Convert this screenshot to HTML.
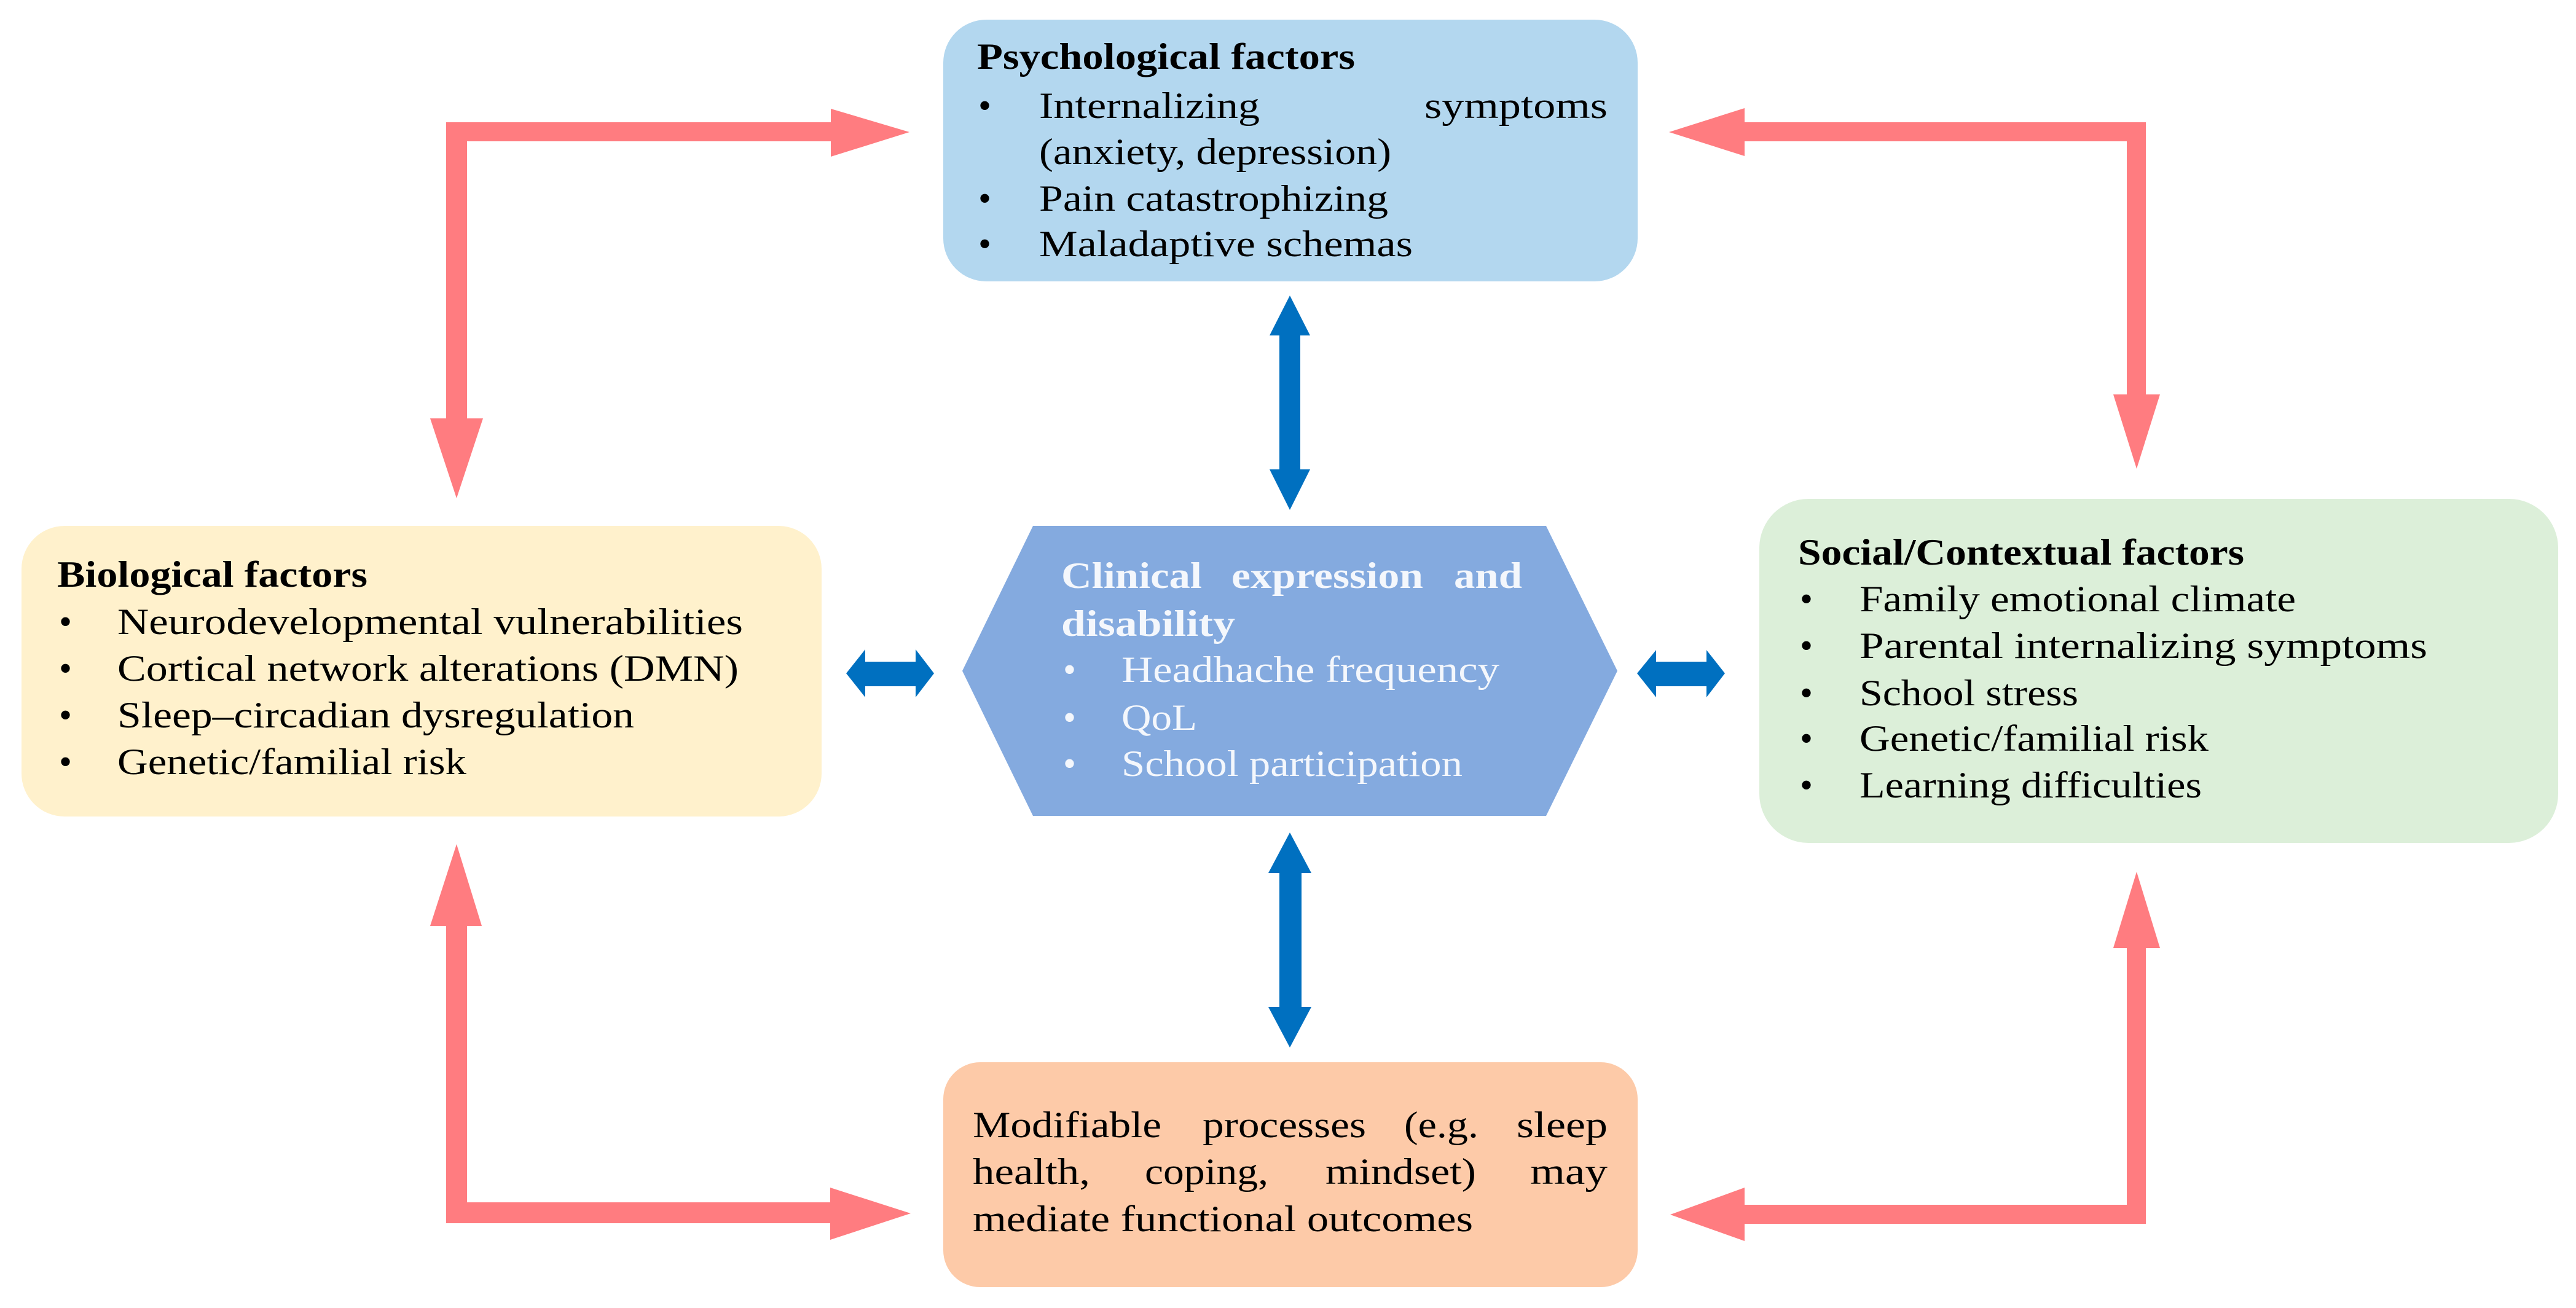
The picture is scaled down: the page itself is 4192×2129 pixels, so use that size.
<!DOCTYPE html>
<html><head><meta charset="utf-8">
<style>
html,body{margin:0;padding:0;background:#fff;}
svg{display:block;}
text{font-family:"Liberation Serif",serif;font-size:60px;fill:#000;}
.b{font-weight:bold;}
.w{fill:#f4f7fc;}
</style></head>
<body>
<svg width="4192" height="2129" viewBox="0 0 4192 2129" xmlns="http://www.w3.org/2000/svg">
<rect width="4192" height="2129" fill="#fff"/>

<!-- Boxes -->
<rect x="1535" y="32" width="1130" height="426" rx="70" fill="#b3d7ef"/>
<rect x="35" y="856" width="1302" height="473" rx="70" fill="#fff1cc"/>
<rect x="2863" y="812" width="1300" height="560" rx="80" fill="#dcefd9"/>
<rect x="1535" y="1729" width="1130" height="366" rx="60" fill="#fdcaa8"/>
<polygon points="1681,856 2516,856 2632,1092 2516,1328 1681,1328 1566,1092" fill="#84aadf"/>

<!-- Red arrows -->
<g fill="#ff7c80">
  <!-- top-left -->
  <path d="M726,199 H1352 V230 H760 V681 H726 Z"/>
  <polygon points="1352,177 1480,215 1352,255"/>
  <polygon points="700,681 786,681 743,811"/>
  <!-- top-right -->
  <path d="M3492,199 H2839 V230 H3461 V642 H3492 Z"/>
  <polygon points="2839,176 2716,215 2839,254"/>
  <polygon points="3439,642 3515,642 3477,763"/>
  <!-- bottom-left -->
  <path d="M726,1507 H760 V1957 H1351 V1991 H726 Z"/>
  <polygon points="700,1507 784,1507 743,1374"/>
  <polygon points="1351,1933 1482,1975 1351,2018"/>
  <!-- bottom-right -->
  <path d="M3461,1543 H3492 V1992 H2839 V1961 H3461 Z"/>
  <polygon points="3439,1543 3515,1543 3477,1419"/>
  <polygon points="2839,1933 2718,1977 2839,2020"/>
</g>

<!-- Blue arrows -->
<g fill="#0070c0">
  <!-- top vertical -->
  <path d="M2082,545 H2116 V765 H2082 Z"/>
  <polygon points="2066,546 2132,546 2099,481"/>
  <polygon points="2066,764 2132,764 2099,830"/>
  <!-- bottom vertical -->
  <path d="M2082,1420 H2118 V1640 H2082 Z"/>
  <polygon points="2064,1421 2134,1421 2099,1355"/>
  <polygon points="2064,1639 2134,1639 2099,1705"/>
  <!-- left horizontal -->
  <path d="M1405,1077 H1492 V1117 H1405 Z"/>
  <polygon points="1408,1057 1408,1135 1377,1096"/>
  <polygon points="1490,1057 1490,1135 1520,1096"/>
  <!-- right horizontal -->
  <path d="M2692,1077 H2780 V1117 H2692 Z"/>
  <polygon points="2695,1058 2695,1135 2664,1096"/>
  <polygon points="2777,1058 2777,1135 2807,1096"/>
</g>

<!-- Psychological -->
<text class="b" x="1590" y="112" textLength="615" lengthAdjust="spacingAndGlyphs">Psychological factors</text>
<text x="1592" y="192">•</text>
<text x="1691" y="192" textLength="359" lengthAdjust="spacingAndGlyphs">Internalizing</text>
<text x="2318" y="192" textLength="298" lengthAdjust="spacingAndGlyphs">symptoms</text>
<text x="1691" y="267" textLength="573" lengthAdjust="spacingAndGlyphs">(anxiety, depression)</text>
<text x="1592" y="343">•</text>
<text x="1691" y="343" textLength="568" lengthAdjust="spacingAndGlyphs">Pain catastrophizing</text>
<text x="1592" y="417">•</text>
<text x="1691" y="417" textLength="608" lengthAdjust="spacingAndGlyphs">Maladaptive schemas</text>

<!-- Biological -->
<text class="b" x="93" y="955" textLength="505" lengthAdjust="spacingAndGlyphs">Biological factors</text>
<text x="96" y="1032">•</text>
<text x="191" y="1032" textLength="1018" lengthAdjust="spacingAndGlyphs">Neurodevelopmental vulnerabilities</text>
<text x="96" y="1108">•</text>
<text x="191" y="1108" textLength="1011" lengthAdjust="spacingAndGlyphs">Cortical network alterations (DMN)</text>
<text x="96" y="1184">•</text>
<text x="191" y="1184" textLength="841" lengthAdjust="spacingAndGlyphs">Sleep–circadian dysregulation</text>
<text x="96" y="1260">•</text>
<text x="191" y="1260" textLength="568" lengthAdjust="spacingAndGlyphs">Genetic/familial risk</text>

<!-- Clinical (hexagon) -->
<text class="b w" x="1727" y="957" textLength="229" lengthAdjust="spacingAndGlyphs">Clinical</text>
<text class="b w" x="2004" y="957" textLength="312" lengthAdjust="spacingAndGlyphs">expression</text>
<text class="b w" x="2366" y="957" textLength="111" lengthAdjust="spacingAndGlyphs">and</text>
<text class="b w" x="1727" y="1035" textLength="283" lengthAdjust="spacingAndGlyphs">disability</text>
<text class="w" x="1730" y="1110">•</text>
<text class="w" x="1825" y="1110" textLength="615" lengthAdjust="spacingAndGlyphs">Headhache frequency</text>
<text class="w" x="1730" y="1188">•</text>
<text class="w" x="1825" y="1188" textLength="123" lengthAdjust="spacingAndGlyphs">QoL</text>
<text class="w" x="1730" y="1263">•</text>
<text class="w" x="1825" y="1263" textLength="555" lengthAdjust="spacingAndGlyphs">School participation</text>

<!-- Social -->
<text class="b" x="2926" y="919" textLength="726" lengthAdjust="spacingAndGlyphs">Social/Contextual factors</text>
<text x="2929" y="995">•</text>
<text x="3026" y="995" textLength="710" lengthAdjust="spacingAndGlyphs">Family emotional climate</text>
<text x="2929" y="1071">•</text>
<text x="3026" y="1071" textLength="924" lengthAdjust="spacingAndGlyphs">Parental internalizing symptoms</text>
<text x="2929" y="1148">•</text>
<text x="3026" y="1148" textLength="356" lengthAdjust="spacingAndGlyphs">School stress</text>
<text x="2929" y="1222">•</text>
<text x="3026" y="1222" textLength="568" lengthAdjust="spacingAndGlyphs">Genetic/familial risk</text>
<text x="2929" y="1298">•</text>
<text x="3026" y="1298" textLength="557" lengthAdjust="spacingAndGlyphs">Learning difficulties</text>

<!-- Modifiable -->
<text x="1583" y="1851" textLength="307" lengthAdjust="spacingAndGlyphs">Modifiable</text>
<text x="1957" y="1851" textLength="266" lengthAdjust="spacingAndGlyphs">processes</text>
<text x="2285" y="1851" textLength="121" lengthAdjust="spacingAndGlyphs">(e.g.</text>
<text x="2468" y="1851" textLength="148" lengthAdjust="spacingAndGlyphs">sleep</text>
<text x="1583" y="1927" textLength="191" lengthAdjust="spacingAndGlyphs">health,</text>
<text x="1863" y="1927" textLength="201" lengthAdjust="spacingAndGlyphs">coping,</text>
<text x="2157" y="1927" textLength="245" lengthAdjust="spacingAndGlyphs">mindset)</text>
<text x="2490" y="1927" textLength="126" lengthAdjust="spacingAndGlyphs">may</text>
<text x="1583" y="2004" textLength="814" lengthAdjust="spacingAndGlyphs">mediate functional outcomes</text>
</svg>
</body></html>
